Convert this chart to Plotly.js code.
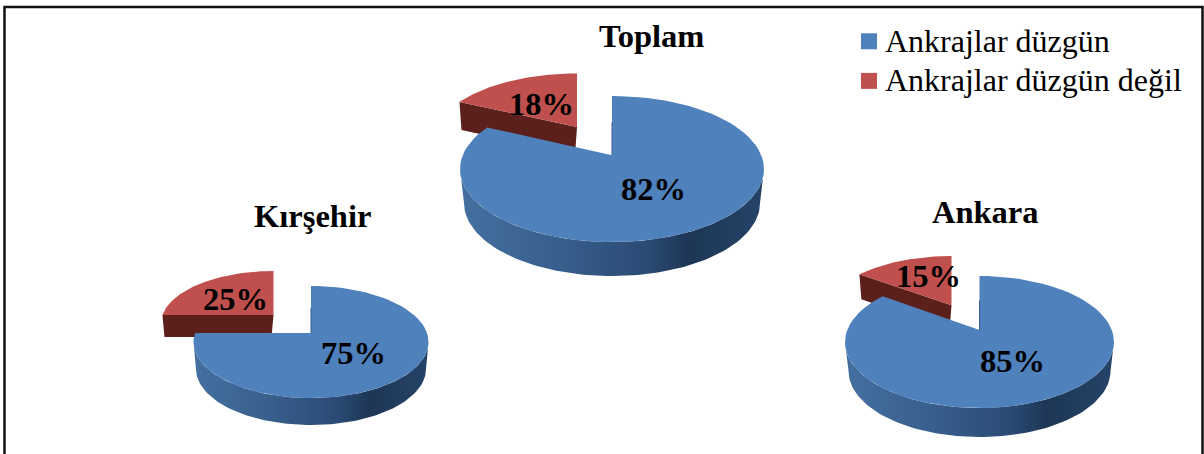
<!DOCTYPE html>
<html lang="tr">
<head>
<meta charset="utf-8">
<title>Ankrajlar</title>
<script src="https://cdn.plot.ly/plotly-3.0.1.min.js"></script>
<style>html,body{margin:0;padding:0;background:#fff}#chart{width:1204px;height:454px}</style>
</head>
<body>
<div id="chart"></div>
<script>
// Share of anchorages by region, in percent
const regions = ["Kırşehir", "Toplam", "Ankara"];
const seriesNames = ["Ankrajlar düzgün", "Ankrajlar düzgün değil"];
const straightShare = [75, 82, 85];
const notStraightShare = [25, 18, 15];

const BLUE = "#4f81bd", RED = "#c0504d", RED_SIDE = "#5c201c";
const SERIF = "'Liberation Serif', 'Times New Roman', serif";
const SIDE_RAMP = [[0, "#44709f"], [0.3, "#39608f"], [0.62, "#2a4a73"], [0.75, "#1d3655"], [1, "#254468"]];

// Placement of each tilted disc: cx/cy/rx/ry of the top face, tilt (how far the
// disc centre sits from the ellipse centre) and the lower rim of the side wall.
const bluePlace = [
  {cx: 311, cy: 342, rx: 117.5, ry: 56, tilt: -0.16, lowCy: 369, lowRx: 115, lowRy: 56},
  {cx: 612, cy: 169, rx: 152, ry: 73, tilt: -0.19, lowCy: 203, lowRx: 148, lowRy: 73},
  {cx: 979.5, cy: 342, rx: 134.5, ry: 66, tilt: -0.18, lowCy: 371, lowRx: 131, lowRy: 66}
];
const redPlace = [
  {cx: 273.5, cy: 323.4, rx: 112.5, ry: 52.4, tilt: -0.16, depth: 22},
  {cx: 577, cy: 139.5, rx: 143, ry: 66, tilt: -0.19, depth: 28},
  {cx: 951.5, cy: 316, rx: 128, ry: 60, tilt: -0.18, depth: 25}
];
const titleAt = [[312, 216], [651, 36], [985, 212]];
const blueLabelAt = [[353, 353], [653, 189], [1012, 361]];
const redLabelAt = [[235, 299], [541, 104], [928, 276]];

// A share of the disc, measured clockwise from 12 o'clock, seen through the tilt.
// Returns the matching angle on the drawn ellipse, so the cut edges stay straight.
function viewAngle(share, tilt) {
  const a = share / 100 * 2 * Math.PI;
  const u = Math.sin(a), v = -Math.cos(a);
  const k = 1 + tilt * v;
  const X = u * Math.sqrt(1 - tilt * tilt) / k;
  const Y = (v + tilt) / k;
  let t = Math.atan2(X, -Y);
  if (t < 0) t += 2 * Math.PI;
  if (share >= 100) t = 2 * Math.PI;
  return t;
}

function arc(cx, cy, rx, ry, t0, t1) {
  const xs = [], ys = [], n = 90;
  for (let i = 0; i <= n; i++) {
    const t = t0 + (t1 - t0) * i / n;
    xs.push(cx + rx * Math.sin(t));
    ys.push(cy - ry * Math.cos(t));
  }
  return {xs, ys};
}

// Top face of a slice: hub, outer arc, back to the hub.
function face(p, fromShare, toShare, color) {
  const a = arc(p.cx, p.cy, p.rx, p.ry, viewAngle(fromShare, p.tilt), viewAngle(toShare, p.tilt));
  const hubY = p.cy + p.ry * p.tilt;
  return {
    type: "scatter", mode: "lines", fill: "toself", fillcolor: color,
    x: [p.cx, ...a.xs, p.cx], y: [hubY, ...a.ys, hubY],
    line: {width: 0, color: color}, showlegend: false, hoverinfo: "skip"
  };
}

// Curved outer wall along the near half of the disc.
function rimWall(p) {
  const top = arc(p.cx, p.cy, p.rx, p.ry, Math.PI / 2, 1.5 * Math.PI);
  const low = arc(p.cx, p.lowCy, p.lowRx, p.lowRy, 1.5 * Math.PI, Math.PI / 2);
  return {
    type: "scatter", mode: "lines", fill: "toself",
    x: [...top.xs, ...low.xs, top.xs[0]], y: [...top.ys, ...low.ys, top.ys[0]],
    fillgradient: {type: "horizontal", colorscale: SIDE_RAMP},
    line: {width: 0, color: "#2a4a73"}, showlegend: false, hoverinfo: "skip"
  };
}

// Flat wall under the slice's front cut edge.
function cutWall(p, fromShare) {
  const t = viewAngle(fromShare, p.tilt);
  const hubY = p.cy + p.ry * p.tilt;
  const ex = p.cx + p.rx * Math.sin(t), ey = p.cy - p.ry * Math.cos(t);
  return {
    type: "scatter", mode: "lines", fill: "toself", fillcolor: RED_SIDE,
    x: [ex, p.cx, p.cx - 2, ex + 2, ex],
    y: [ey, hubY, hubY + p.depth, ey + p.depth, ey],
    line: {width: 0, color: RED_SIDE}, showlegend: false, hoverinfo: "skip"
  };
}

// Thin shaded sliver on the upright cut edge, running up from the hub.
function cutEdge(p) {
  const hubY = p.cy + p.ry * p.tilt;
  return {
    type: "scatter", mode: "lines",
    x: [p.cx, p.cx], y: [hubY, hubY - p.ry * 0.45],
    line: {width: 1, color: "#3a5f90"}, showlegend: false, hoverinfo: "skip"
  };
}

const traces = [];
regions.forEach((name, i) => {
  const start = straightShare[i];
  traces.push(cutWall(redPlace[i], start));
  traces.push(face(redPlace[i], start, start + notStraightShare[i], RED));
  traces.push(rimWall(bluePlace[i]));
  traces.push(face(bluePlace[i], 0, start, BLUE));
  traces.push(cutEdge(bluePlace[i]));
});
[BLUE, RED].forEach((color, i) => traces.push({
  type: "scatter", mode: "markers", x: [null], y: [null], name: seriesNames[i],
  marker: {symbol: "square", size: 16, color: color}, hoverinfo: "skip"
}));

const note = (text, at, size) => ({
  text: "<b>" + text + "</b>", x: at[0], y: at[1], xref: "x", yref: "y",
  xanchor: "center", yanchor: "middle", showarrow: false,
  font: {family: SERIF, size: size, color: "#000"}
});
const annotations = [];
regions.forEach((name, i) => {
  annotations.push(note(name, titleAt[i], 32.5));
  annotations.push(note(straightShare[i] + "%", blueLabelAt[i], 32.5));
  annotations.push(note(notStraightShare[i] + "%", redLabelAt[i], 32.5));
});

const hidden = {visible: false, fixedrange: true};
Plotly.newPlot("chart", traces, {
  width: 1204, height: 454,
  margin: {l: 0, r: 0, t: 0, b: 0},
  paper_bgcolor: "#fff", plot_bgcolor: "#fff",
  xaxis: {...hidden, range: [0, 1204]},
  yaxis: {...hidden, range: [454, 0]},
  annotations: annotations,
  showlegend: true,
  legend: {
    x: 845 / 1204, y: 1 - 12 / 454, xanchor: "left", yanchor: "top",
    bgcolor: "rgba(0,0,0,0)", font: {family: SERIF, size: 32, color: "#000"}
  },
  shapes: [{
    type: "path", xref: "x", yref: "y",
    path: "M 4.5 460 L 4.5 7 L 1202.5 7 L 1202.5 460",
    line: {color: "#111", width: 2.5}
  }]
}, {displayModeBar: false, staticPlot: true}).then(() => {
  // Tighten the legend: swatches nearer their labels, rows closer together.
  document.querySelectorAll("#chart .legend .legendpoints path.scatterpts").forEach(el => {
    el.setAttribute("transform", "translate(24,2)");
  });
  const rows = document.querySelectorAll("#chart .legend .traces");
  if (rows.length > 1) {
    const m = /translate\(\s*([-\d.]+)[ ,]+([-\d.]+)\s*\)/.exec(rows[1].getAttribute("transform") || "");
    if (m) rows[1].setAttribute("transform", `translate(${m[1]},${parseFloat(m[2]) - 5})`);
  }
});
</script>
</body>
</html>
